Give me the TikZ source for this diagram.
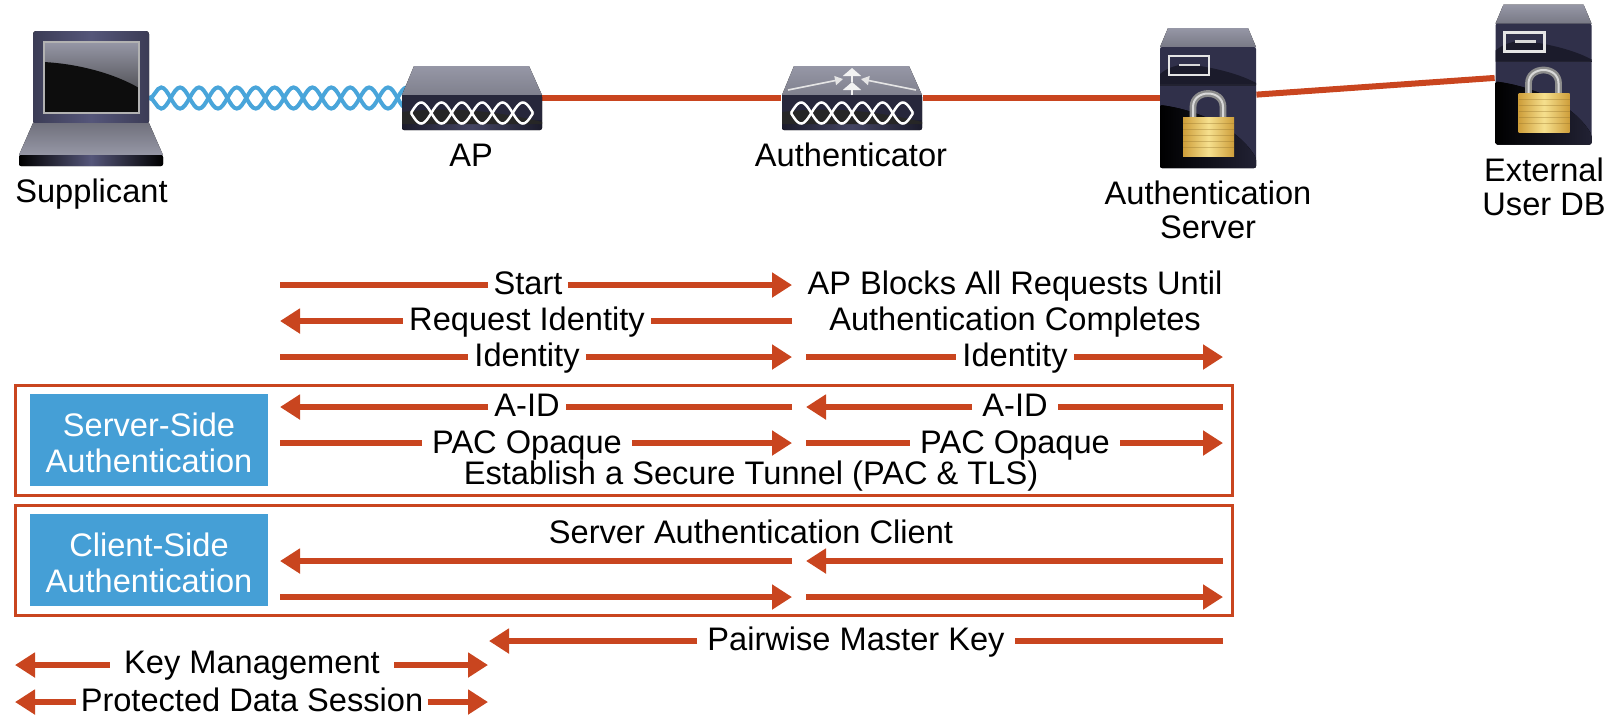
\documentclass[tikz,border=0pt]{standalone}
\usepackage{fontspec}
\setmainfont{Liberation Sans}
\usetikzlibrary{arrows.meta}
\usetikzlibrary{decorations.pathmorphing}

\definecolor{flowred}{HTML}{C9451F}
\definecolor{sideblue}{HTML}{459FD6}
\definecolor{wireblue}{HTML}{49A5DA}
\definecolor{caselight}{HTML}{9697A6}
\definecolor{casemid}{HTML}{55567A}
\definecolor{casedark}{HTML}{1B1B2B}
\definecolor{casenavy}{HTML}{30304A}
\definecolor{goldlight}{HTML}{F6E08E}
\definecolor{golddark}{HTML}{CE9E3A}

\tikzset{
    msg/.style={font=\fontsize{16.3}{17.7}\selectfont, inner xsep=3pt, inner ysep=0pt, text height=12pt, text depth=2.3pt},
    devlabel/.style={font=\fontsize{16.3}{17}\selectfont, inner sep=0pt, align=center},
    sidebox/.style={fill=sideblue, text=white, font=\fontsize{16.3}{17.7}\selectfont, align=center, inner sep=0pt, minimum width=119pt, minimum height=46pt},
    frame/.style={draw=flowred, line width=1.5pt},
    flowline/.style={color=flowred, line width=3pt},
    flowarrow/.style={flowline, -{Triangle[length=10pt,width=12pt]}},
    link/.style={color=flowred, line width=3pt},
    helix/.style={color=wireblue, line width=2pt, decorate, decoration={snake, segment length=18.9pt, amplitude=5.3pt}},
    iconbox/.style={inner sep=0pt, minimum width=#1},
    pics/wavefront/.style={code={
        % Case
        \fill[top color=caselight, bottom color=caselight!85!black] (-58,-32) -- (57,-32) -- (70,-3) -- (-70,-3) -- cycle;
        \fill[rounded corners=1pt, left color=casedark, right color=casedark, middle color=casemid!80!black] (-70,-3) rectangle (70,32);
        \fill[casedark!80!casemid] (-70,-3) rectangle (70,22);
        \fill[black!85] (-70,14) .. controls (-20,8) and (30,14) .. (70,24) -- (70,26) -- (-70,26) -- cycle;
        % Two waves
        \foreach \sgn in {1,-1}
            \draw[white, line width=1.25pt, domain=-61:61, samples=97, smooth] plot (\x,{15+\sgn*10.5*sin((\x+61)*8.852)});
    }},
    pics/lockserver/.style={code={
        % Case
        \fill[top color=caselight, bottom color=caselight!80!black] (-40,-70) -- (40,-70) -- (48,-51) -- (-48,-51) -- cycle;
        \fill[rounded corners=1pt, casenavy] (-48,-51) rectangle (48,70);
        \fill[casedark] (-25,-34) .. controls (0,-32) and (30,-25) .. (48,-15) -- (48,-13) -- (-48,-13) -- (-48,-24) .. controls (-40,-30) .. cycle;
        \fill[rounded corners=1pt, left color=black, right color=casenavy!70!black] (-48,7) .. controls (-10,12) and (30,30) .. (48,60) -- (48,70) -- (-48,70) -- cycle;
        \draw[casemid!40!black, line width=0.8pt] (-48,-13) -- (48,-13);
        % Slot
        \draw[white!90!black, line width=1.2pt] (-39,-42) rectangle (1,-23);
        \draw[white!85!black, line width=1.2pt] (-29,-33) -- (-8,-33);
        % Padlock
        \draw[black!45, line width=3.4pt] (-15,20) -- (-15,9) .. controls (-15,-9) and (15,-9) .. (15,9) -- (15,20);
        \draw[black!15, line width=1pt] (-15,20) -- (-15,9) .. controls (-15,-9) and (15,-9) .. (15,9) -- (15,20);
        \fill[left color=golddark, right color=golddark, middle color=goldlight] (-25,19) rectangle (26,58);
        \foreach \yy in {25,31,37,43,49}
            \draw[golddark!70!black, opacity=0.35, line width=0.5pt] (-25,\yy) -- (26,\yy);
    }},
}

\begin{document}
\begin{tikzpicture}[x=0.5pt, y=-0.5pt]
    \useasboundingbox (0,0) rectangle (1620,720);

    % Devices
    \node[iconbox=58pt, minimum height=46pt] (laptop) at (91,98) {};
    \node[iconbox=70pt, minimum height=32pt] (ap) at (472,98) {};
    \node[iconbox=70.5pt, minimum height=32pt] (authr) at (852,98) {};
    \node[iconbox=48pt, minimum height=70pt] (authsrv) at (1208,98) {};
    \node[iconbox=48.5pt, minimum height=70pt] (extdb) at (1543.5,74.5) {};

    % Wires
    \draw[helix] (laptop.east) -- (ap.center);
    \draw[helix, decoration={mirror}] (laptop.east) -- (ap.center);
    \draw[link] (ap) -- (authr);
    \draw[link] (authr) -- (authsrv);
    \draw[link] (authsrv) -- (extdb);

    % Laptop
    \fill[rounded corners=1.5pt, left color=casemid!70!black, right color=casemid!70!black, middle color=casemid] (33,31) rectangle (149,124);
    \fill[top color=caselight, bottom color=black!80] (44,42) rectangle (139,113);
    \fill[black!95] (44,62) .. controls (80,64) and (115,74) .. (139,88) -- (139,113) -- (44,113) -- cycle;
    \draw[black!30, line width=0.7pt] (44,42) rectangle (139,113);
    \fill[top color=caselight!75!black, bottom color=caselight] (33,123) -- (149,123) -- (163,155) -- (19,155) -- cycle;
    \fill[rounded corners=1pt, left color=black, right color=black, middle color=casemid] (19,155) rectangle (163,166);

    % AP and Authenticator
    \pic at (ap) {wavefront};
    \pic at (authr) {wavefront};
    \draw[white!95!black, line width=1.4pt, -{Triangle[length=4pt,width=9pt]}] (852,82) -- (852,68);
    \draw[white!95!black, line width=1.4pt, -{Triangle[length=4pt,width=9pt]}] (852,95) -- (852,82);
    \draw[white!90!black, line width=0.8pt, -{Triangle[length=4pt,width=4.5pt]}] (788,90) -- (843,79);
    \draw[white!90!black, line width=0.8pt, -{Triangle[length=4pt,width=4.5pt]}] (916,90) -- (861,79);

    % Servers
    \pic at (authsrv) {lockserver};
    \pic at (extdb) {lockserver};

    % Device names
    \node[devlabel] (supname) at (91.5,194) {Supplicant};
    \node[devlabel] (apname) at (471,155) {AP};
    \node[devlabel] (authrname) at (851,155) {Authenticator};
    \node[devlabel] (authsrvname) at (1208,210) {Authentication\\Server};
    \node[devlabel] (extdbname) at (1544,187) {External\\User DB};

    % Start
    \coordinate (startL) at (280,285);
    \coordinate (startR) at (792,285);
    \node[msg, inner xsep=2.5pt] (start) at (528,285) {Start};
    \draw[flowline] (startL) -- (start);
    \draw[flowarrow] (start) -- (startR);
    \node[msg] (blockA) at (1015,285) {AP Blocks All Requests Until};
    \node[msg] (blockB) at (1015,321) {Authentication Completes};

    % Request Identity
    \coordinate (reqL) at (280,321);
    \coordinate (reqR) at (792,321);
    \node[msg] (req) at (527,321) {Request Identity};
    \draw[flowarrow] (req) -- (reqL);
    \draw[flowline] (reqR) -- (req);

    % Identity
    \coordinate (idL) at (280,357);
    \coordinate (idR) at (792,357);
    \node[msg] (id) at (527,357) {Identity};
    \draw[flowline] (idL) -- (id);
    \draw[flowarrow] (id) -- (idR);
    \coordinate (idbL) at (806,357);
    \coordinate (idbR) at (1223,357);
    \node[msg] (idb) at (1015,357) {Identity};
    \draw[flowline] (idbL) -- (idb);
    \draw[flowarrow] (idb) -- (idbR);

    % Server side
    \draw[frame] (15,385) rectangle (1232,495);
    \node[sidebox] (srvside) at (149,440) {\rule{0pt}{14.5pt}Server-Side\\Authentication};
    \coordinate (aidL) at (280,407);
    \coordinate (aidR) at (792,407);
    \node[msg] (aid) at (527,407) {A-ID};
    \draw[flowarrow] (aid) -- (aidL);
    \draw[flowline] (aidR) -- (aid);
    \coordinate (aidbL) at (806,407);
    \coordinate (aidbR) at (1223,407);
    \node[msg, inner xsep=5pt] (aidb) at (1015,407) {A-ID};
    \draw[flowarrow] (aidb) -- (aidbL);
    \draw[flowline] (aidbR) -- (aidb);
    \coordinate (pacL) at (280,443);
    \coordinate (pacR) at (792,443);
    \node[msg, inner xsep=5pt, text depth=1.3pt] (pac) at (527,443) {PAC Opaque};
    \draw[flowline] (pacL) -- (pac);
    \draw[flowarrow] (pac) -- (pacR);
    \coordinate (pacbL) at (806,443);
    \coordinate (pacbR) at (1223,443);
    \node[msg, inner xsep=5pt, text depth=1.3pt] (pacb) at (1015,443) {PAC Opaque};
    \draw[flowline] (pacbL) -- (pacb);
    \draw[flowarrow] (pacb) -- (pacbR);
    \node[msg] (tunnel) at (751,475) {Establish a Secure Tunnel (PAC \& TLS)};

    % Client side
    \draw[frame] (15,505) rectangle (1232,615);
    \node[sidebox] (cliside) at (149,560) {\rule{0pt}{14.5pt}Client-Side\\Authentication};
    \node[msg] (srvauth) at (751,534) {Server Authentication Client};
    \coordinate (cliaL) at (280,561);
    \coordinate (cliaR) at (792,561);
    \coordinate (clibL) at (806,561);
    \coordinate (clibR) at (1223,561);
    \draw[flowarrow] (cliaR) -- (cliaL);
    \draw[flowarrow] (clibR) -- (clibL);
    \coordinate (clicL) at (280,597);
    \coordinate (clicR) at (792,597);
    \coordinate (clidL) at (806,597);
    \coordinate (clidR) at (1223,597);
    \draw[flowarrow] (clicL) -- (clicR);
    \draw[flowarrow] (clidL) -- (clidR);

    % Pairwise Master Key
    \coordinate (pmkL) at (489,641);
    \coordinate (pmkR) at (1223,641);
    \node[msg, inner xsep=5pt] (pmk) at (856,641) {Pairwise Master Key};
    \draw[flowarrow] (pmk) -- (pmkL);
    \draw[flowline] (pmkR) -- (pmk);

    % Key Management
    \coordinate (keyL) at (15,665);
    \coordinate (keyR) at (488,665);
    \node[msg, inner xsep=7pt, text depth=3.3pt] (key) at (252,665) {Key Management};
    \draw[flowarrow] (key) -- (keyL);
    \draw[flowarrow] (key) -- (keyR);

    % Protected Data Session
    \coordinate (dataL) at (15,702);
    \coordinate (dataR) at (488,702);
    \node[msg, inner xsep=2pt] (data) at (252,702) {Protected Data Session};
    \draw[flowarrow] (data) -- (dataL);
    \draw[flowarrow] (data) -- (dataR);
\end{tikzpicture}
\end{document}
